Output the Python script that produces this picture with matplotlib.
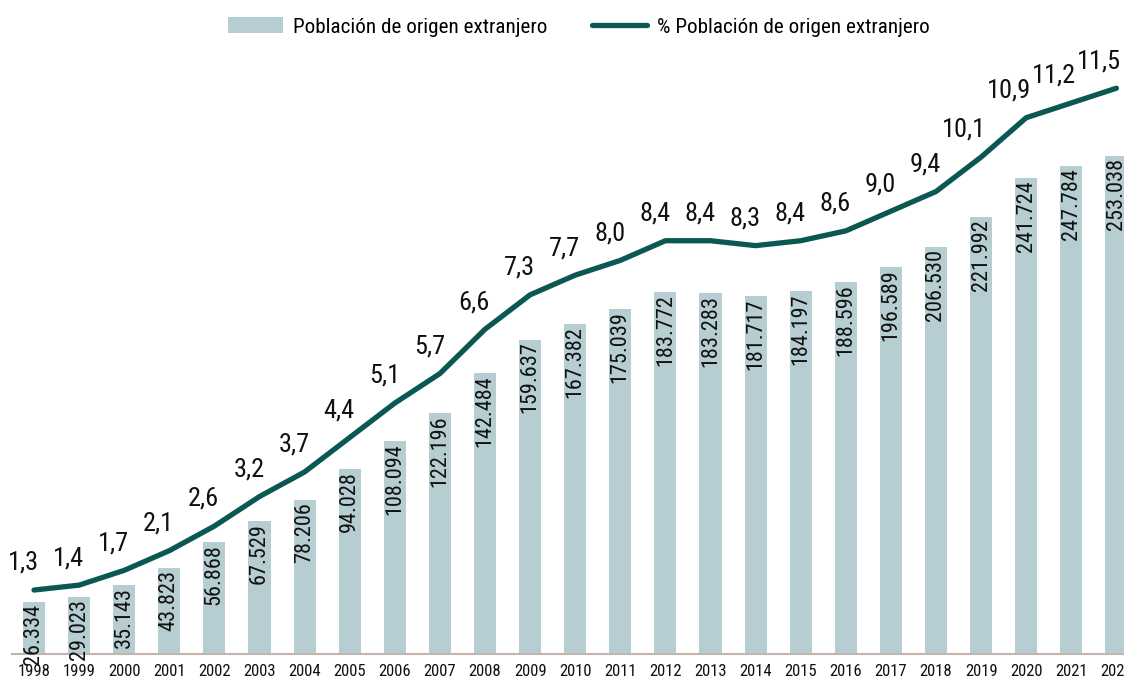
import matplotlib
matplotlib.use("Agg")
import matplotlib.pyplot as plt
from matplotlib.patches import Patch
from matplotlib.lines import Line2D

years = [str(y) for y in range(1998, 2023)]
poblacion = [26334, 29023, 35143, 43823, 56868, 67529, 78206, 94028, 108094,
             122196, 142484, 159637, 167382, 175039, 183772, 183283, 181717,
             184197, 188596, 196589, 206530, 221992, 241724, 247784, 253038]
porcentaje = [1.3, 1.4, 1.7, 2.1, 2.6, 3.2, 3.7, 4.4, 5.1, 5.7, 6.6, 7.3, 7.7,
              8.0, 8.4, 8.4, 8.3, 8.4, 8.6, 9.0, 9.4, 10.1, 10.9, 11.2, 11.5]
legend_labels = ["Población de origen extranjero", "% Población de origen extranjero"]

FONT = ["Roboto Condensed", "DejaVu Sans"]
plt.rcParams["font.family"] = FONT

BAR_C = "#b6ced2"
LINE_C = "#0b5853"
AXIS_C = "#c2b5ae"

W, H = 1124, 686
fig = plt.figure(figsize=(W / 100, H / 100), dpi=100)
left_px, bottom_px, top_px = 12, 654, 30
ax = fig.add_axes([left_px / W, (H - bottom_px) / H, (W - left_px) / W, (bottom_px - top_px) / H])
step = 45.1
x0 = 34
ax.set_xlim((left_px - x0) / step, (W - x0) / step)
ax.set_ylim(0, (bottom_px - top_px) / 1.97 * 1000)

xs = list(range(len(years)))
bars = ax.bar(xs, poblacion, width=0.49, color=BAR_C, zorder=2)
for x, v in zip(xs, poblacion):
    ax.annotate(f"{v:,}".replace(",", "."), (x, v), xytext=(0, -1.5), textcoords="offset points",
                rotation=90, ha="center", va="top", fontsize=16, color="#111111",
                zorder=6, annotation_clip=False)

for s in ["top", "right", "left"]:
    ax.spines[s].set_visible(False)
ax.spines["bottom"].set_color(AXIS_C)
ax.spines["bottom"].set_linewidth(1.5)
ax.spines["bottom"].set_zorder(4)
ax.set_yticks([])
ax.set_xticks(xs)
ax.set_xticklabels(years, fontsize=12, color="#111111")
ax.tick_params(axis="x", length=0, pad=7)

ax2 = ax.twinx()
ax2.set_ylim(0, (bottom_px - top_px) / 49.2)
ax2.set_yticks([])
for s in ["top", "right", "left", "bottom"]:
    ax2.spines[s].set_visible(False)
ax2.plot(xs, porcentaje, color=LINE_C, linewidth=3.8, solid_capstyle="round", zorder=4)
for x, v in zip(xs, porcentaje):
    ax2.annotate(f"{v:.1f}".replace(".", ","), (x, v), xytext=(3.6, 19.5),
                 textcoords="offset points", ha="right", va="center",
                 fontsize=19, color="#111111", annotation_clip=False)

handles = [Patch(facecolor=BAR_C, edgecolor="none"),
           Line2D([0], [0], color=LINE_C, linewidth=3.8, solid_capstyle="round")]
fig.legend(handles, legend_labels, loc="center", bbox_to_anchor=(579 / W, 1 - 27 / H),
           ncol=2, frameon=False, fontsize=15.2, handlelength=2.6, handleheight=0.8,
           columnspacing=2.1, handletextpad=0.5)

fig.savefig("out.png", dpi=100)
